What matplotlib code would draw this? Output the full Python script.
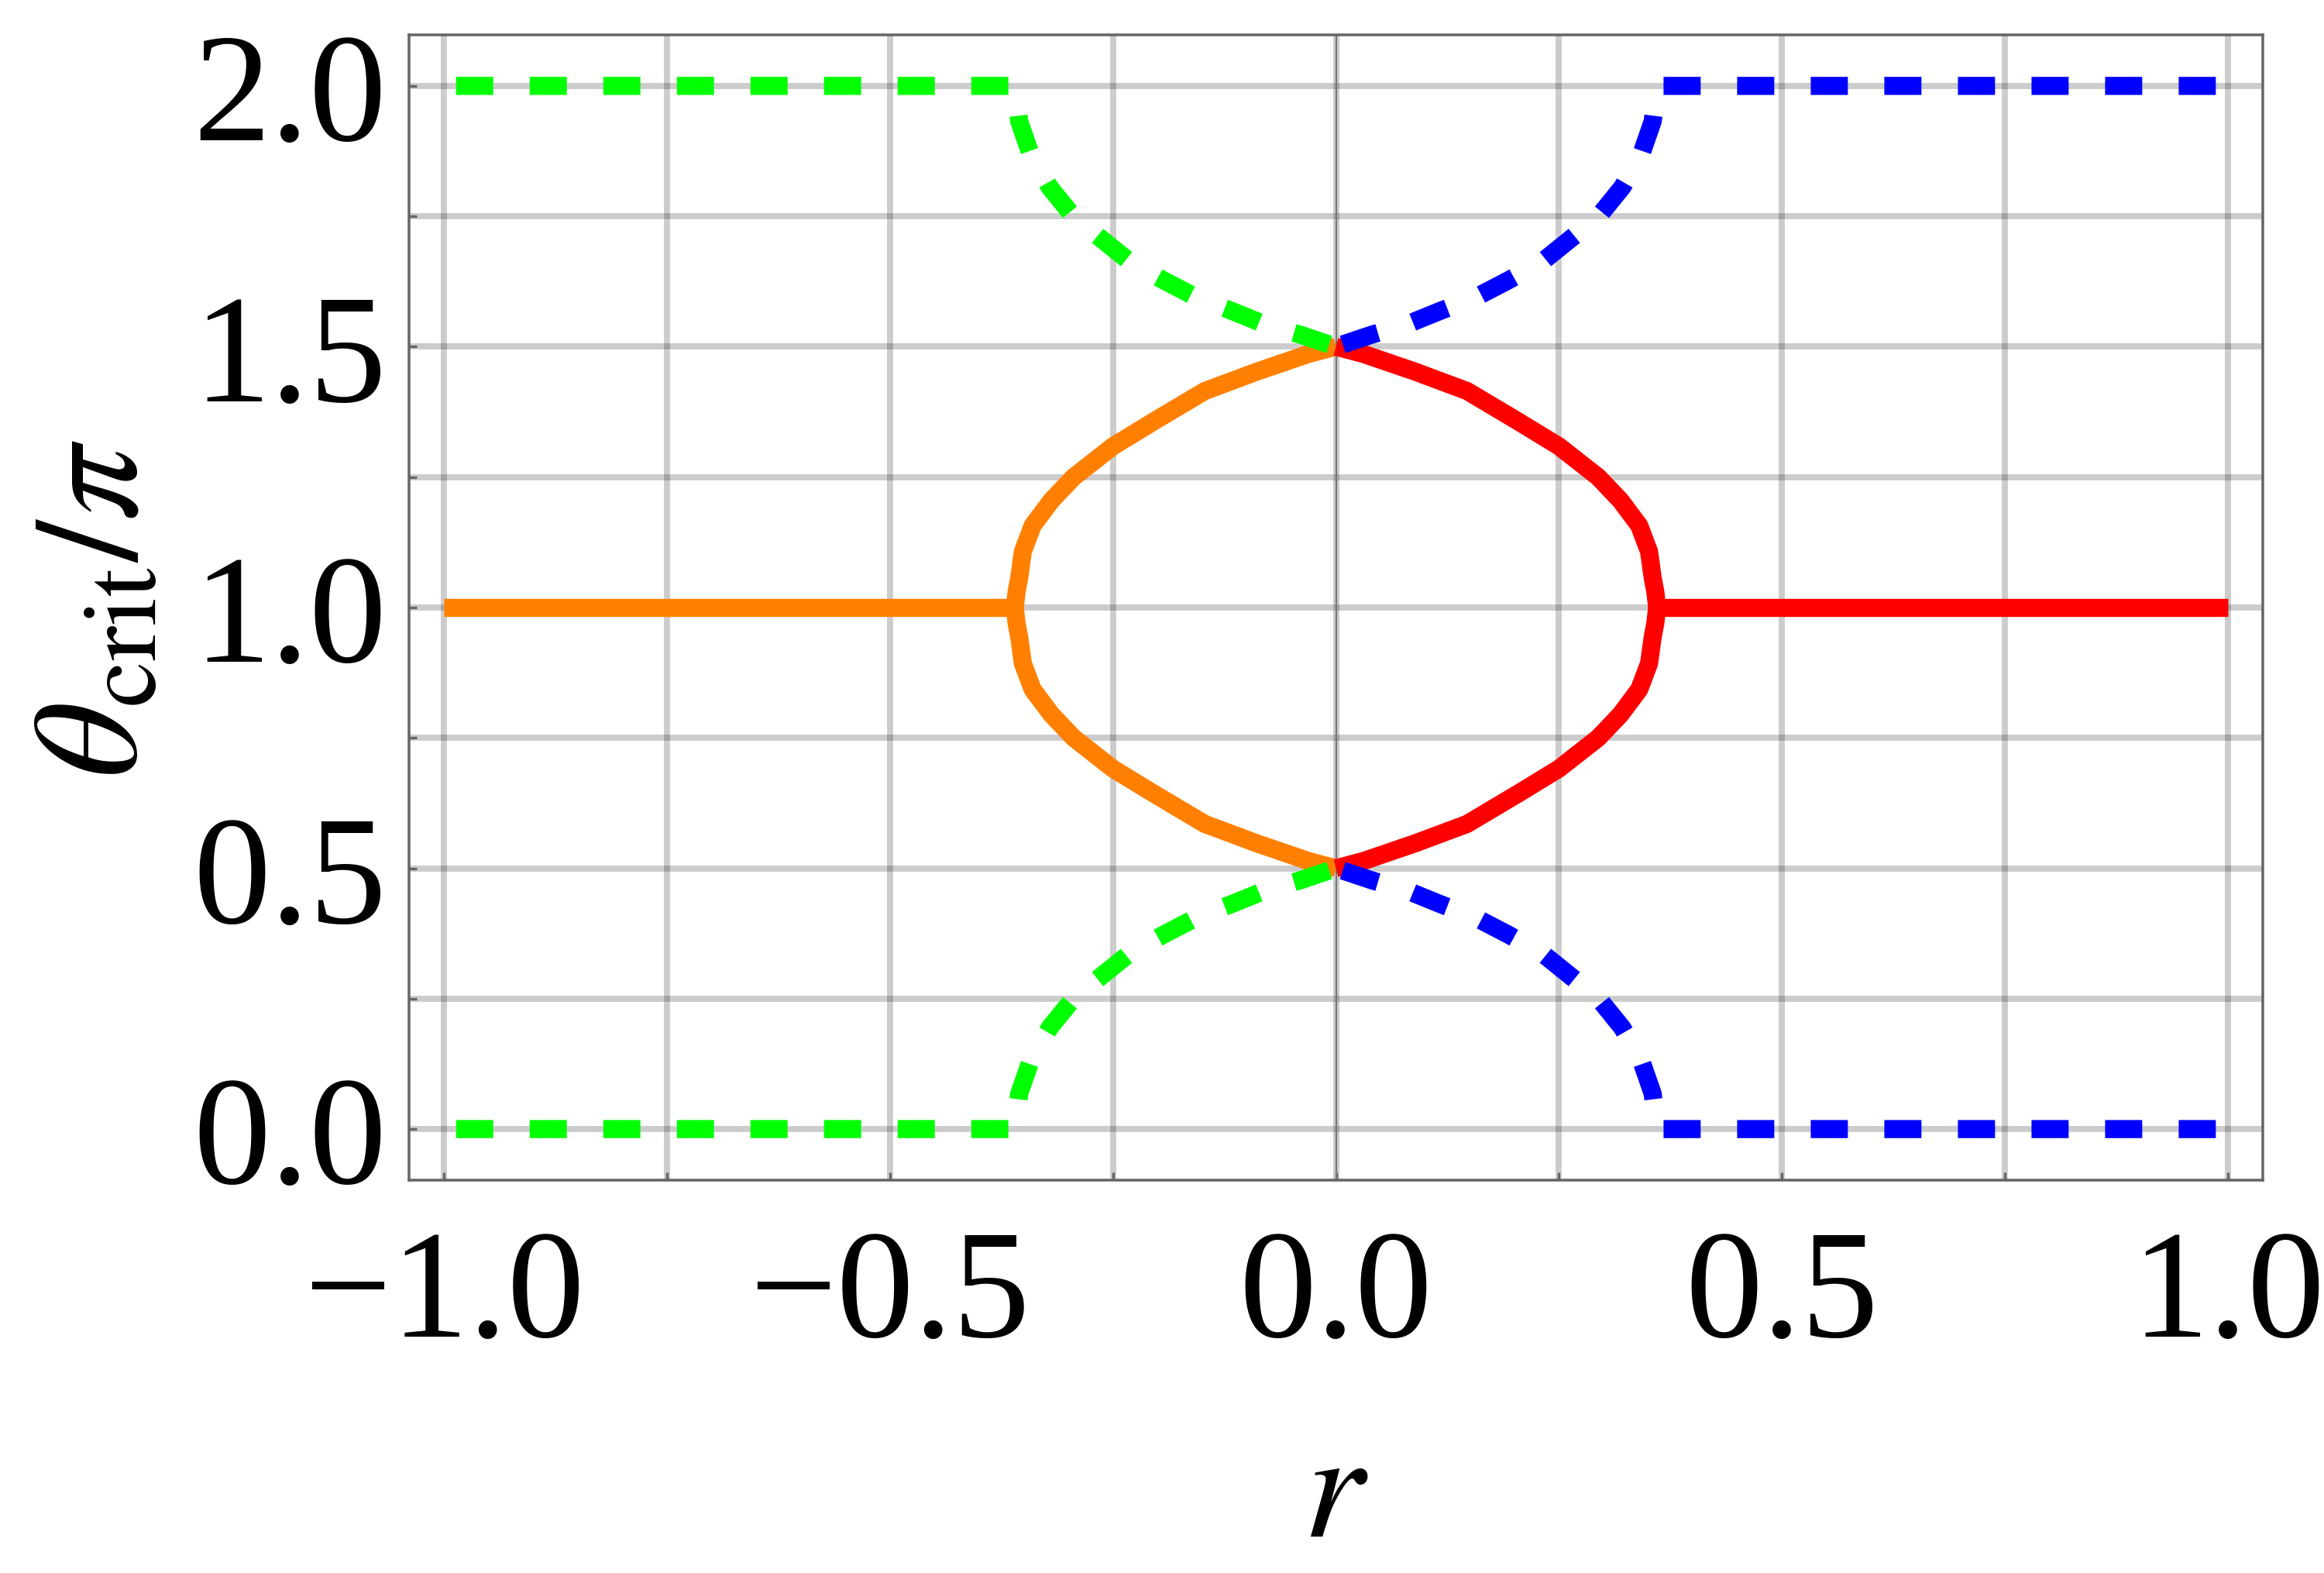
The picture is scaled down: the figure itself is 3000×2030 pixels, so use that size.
import matplotlib
matplotlib.use('Agg')
import matplotlib.pyplot as plt

plt.rcParams['font.family'] = ['Liberation Serif', 'DejaVu Serif']
plt.rcParams['mathtext.fontset'] = 'stix'
plt.rcParams['axes.unicode_minus'] = True
plt.rcParams['lines.scale_dashes'] = False

# data, theta_crit in units of pi
flat_left_r = [-1.0, -0.36]
flat_right_r = [1.0, 0.36]
flat_t = [1.0, 1.0]

loop_left_r = [-0.36, -0.358, -0.355, -0.351, -0.340, -0.319, -0.294, -0.25, -0.205, -0.147, -0.089, -0.031, 0.0]
loop_right_r = [0.36, 0.358, 0.355, 0.351, 0.340, 0.319, 0.294, 0.25, 0.205, 0.147, 0.089, 0.031, 0.0]
loop_upper_t = [1.0, 1.03, 1.057, 1.107, 1.157, 1.205, 1.25, 1.309, 1.356, 1.415, 1.452, 1.486, 1.5]
loop_lower_t = [1.0, 0.97, 0.943, 0.893, 0.843, 0.795, 0.75, 0.691, 0.644, 0.585, 0.548, 0.514, 0.5]

green_r = [-1.0, -0.36, -0.355, -0.342, -0.321, -0.295, -0.261, -0.232, -0.193, -0.157, -0.116, -0.080, -0.040, 0.0]
blue_r = [1.0, 0.36, 0.355, 0.342, 0.321, 0.295, 0.261, 0.232, 0.193, 0.157, 0.116, 0.080, 0.040, 0.0]
branch_upper_t = [2.0, 2.0, 1.932, 1.868, 1.806, 1.751, 1.704, 1.664, 1.627, 1.595, 1.568, 1.543, 1.523, 1.5]
branch_lower_t = [0.0, 0.0, 0.068, 0.132, 0.194, 0.249, 0.296, 0.336, 0.373, 0.405, 0.432, 0.457, 0.477, 0.5]

x_major = [-1.0, -0.5, 0.0, 0.5, 1.0]
y_major = [0.0, 0.5, 1.0, 1.5, 2.0]
x_minor = [-0.75, -0.25, 0.25, 0.75]
y_minor = [0.25, 0.75, 1.25, 1.75]
x_labels = ['\u22121.0', '\u22120.5', '0.0', '0.5', '1.0']
y_labels = ['0.0', '0.5', '1.0', '1.5', '2.0']

fig = plt.figure(figsize=(10, 6.77), dpi=300)
ax = fig.add_axes([0.176, 0.2496, 0.9737 - 0.176, 0.9774 - 0.2496])

lw = 5.6
orange = '#ff8000'
red = '#ff0000'
green = '#00ff00'
blue = '#0000ff'

ax.plot(flat_left_r, flat_t, color=orange, lw=lw, solid_capstyle='butt', zorder=3)
ax.plot(loop_left_r, loop_upper_t, color=orange, lw=lw, solid_capstyle='butt', zorder=3)
ax.plot(loop_left_r, loop_lower_t, color=orange, lw=lw, solid_capstyle='butt', zorder=3)
ax.plot(flat_right_r, flat_t, color=red, lw=lw, solid_capstyle='butt', zorder=3)
ax.plot(loop_right_r, loop_upper_t, color=red, lw=lw, solid_capstyle='butt', zorder=3)
ax.plot(loop_right_r, loop_lower_t, color=red, lw=lw, solid_capstyle='butt', zorder=3)

# dash / gap in points, starting inside a gap like the original
dash = (19, (11.5, 11.3))
for rr, tt, c in [(blue_r, branch_upper_t, blue), (blue_r, branch_lower_t, blue),
                  (green_r, branch_upper_t, green), (green_r, branch_lower_t, green)]:
    ln, = ax.plot(rr, tt, color=c, lw=lw, dash_capstyle='butt', dash_joinstyle='round', zorder=4)
    ln.set_linestyle(dash)

ax.set_xlim(-1.039, 1.039)
ax.set_ylim(-0.098, 2.098)
ax.set_xticks(x_major)
ax.set_yticks(y_major)
ax.set_xticks(x_minor, minor=True)
ax.set_yticks(y_minor, minor=True)
ax.set_xticklabels(x_labels)
ax.set_yticklabels(y_labels)

ax.grid(True, which='both', color='black', alpha=0.2, lw=1.9)
ax.set_axisbelow(True)
ax.axvline(0, color='#777777', lw=0.5, zorder=1.5)

ax.tick_params(which='both', direction='in', length=2.5, width=0.8, color='#666666',
               labelsize=48)
ax.tick_params(axis='x', pad=15)
ax.tick_params(axis='y', pad=7)
for s in ax.spines.values():
    s.set_color('#666666')
    s.set_linewidth(0.85)

ax.set_xlabel('$r$', fontsize=48, va='baseline')
ax.xaxis.set_label_coords(0.5, -0.3106)
ax.set_ylabel(r'$\theta_{\mathrm{crit}}/\pi$', fontsize=46, va='center', ha='center')
ax.yaxis.set_label_coords(-0.1663, 0.5)

fig.savefig('out.png', dpi=300)
